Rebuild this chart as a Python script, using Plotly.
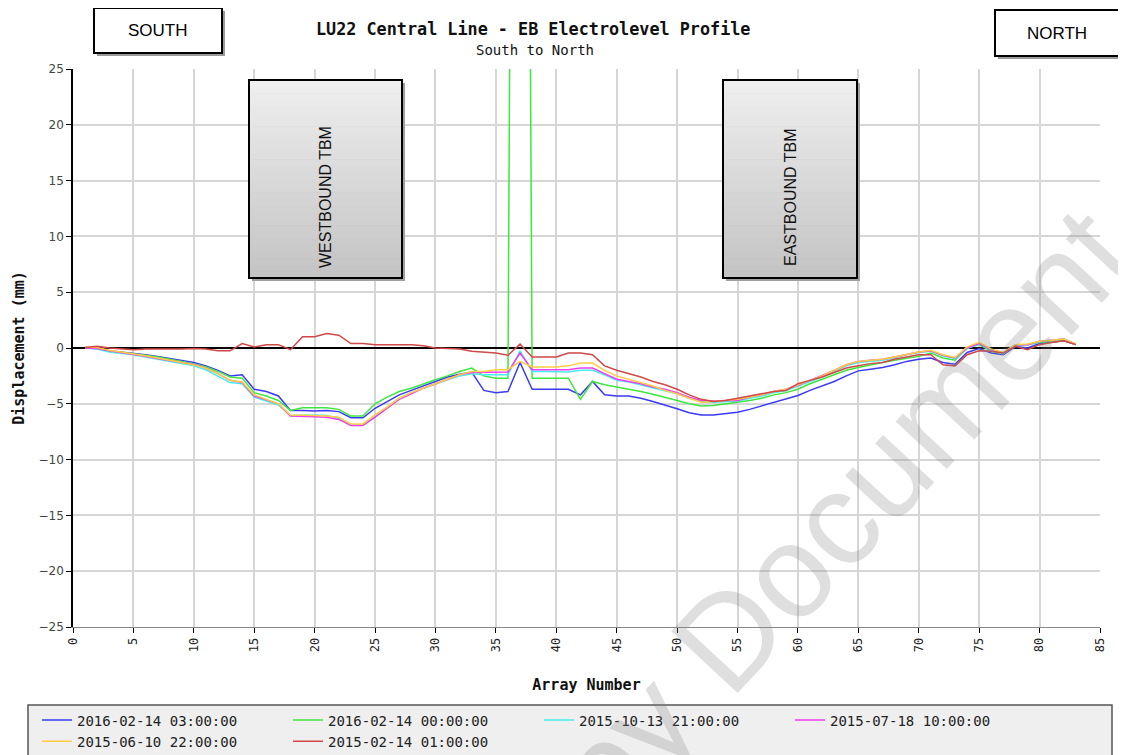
import plotly.graph_objects as go

# ---------------- data ----------------
ARRAY = list(range(1, 84))
SERIES_NAMES = ["2016-02-14 03:00:00", "2016-02-14 00:00:00", "2015-10-13 21:00:00",
                "2015-07-18 10:00:00", "2015-06-10 22:00:00", "2015-02-14 01:00:00"]
SERIES_COLORS = ["#3a3af2", "#3fe63f", "#45eeee", "#f03cf0", "#ffcc44", "#d04848"]

BLUE = [0, -0.05, -0.25, -0.35, -0.45, -0.6, -0.75, -0.95, -1.1, -1.3,
        -1.6, -2.0, -2.5, -2.4, -3.7, -3.9, -4.3, -5.6, -5.6, -5.65,
        -5.6, -5.7, -6.25, -6.25, -5.4, -4.8, -4.2, -3.8, -3.4, -3.0,
        -2.6, -2.35, -2.15, -3.8, -4.0, -3.9, -1.3, -3.7, -3.7, -3.7,
        -3.7, -4.2, -3.0, -4.2, -4.3, -4.3, -4.5, -4.8, -5.1, -5.45,
        -5.8, -6.0, -6.0, -5.9, -5.75, -5.5, -5.2, -4.9, -4.6, -4.25,
        -3.8, -3.4, -3.0, -2.5, -2.05, -1.9, -1.75, -1.5, -1.2, -1.0,
        -0.9, -1.3, -1.45, -0.4, -0.05, -0.45, -0.6, 0.15, 0.0, 0.4,
        0.55, 0.65, 0.3]
GREEN = [0, -0.05, -0.3, -0.4, -0.5, -0.65, -0.8, -1.0, -1.2, -1.4,
         -1.7, -2.1, -2.6, -2.7, -4.0, -4.3, -4.7, -5.6, -5.35, -5.35,
         -5.35, -5.5, -6.1, -6.1, -5.0, -4.4, -3.9, -3.6, -3.2, -2.85,
         -2.5, -2.1, -1.8, -2.5, -2.7, -2.7, 200, -2.7, -2.7, -2.7,
         -2.7, -4.6, -3.0, -3.3, -3.5, -3.65, -3.9, -4.15, -4.4, -4.7,
         -5.0, -5.2, -5.15, -5.0, -4.9, -4.7, -4.5, -4.2, -4.0, -3.7,
         -3.2, -2.8, -2.4, -2.0, -1.75, -1.5, -1.3, -1.1, -0.9, -0.75,
         -0.45, -0.9, -1.1, 0.0, 0.3, -0.3, -0.5, 0.3, 0.3, 0.5,
         0.6, 0.7, 0.3]
CYAN = [0, -0.1, -0.35, -0.45, -0.6, -0.8, -1.0, -1.2, -1.4, -1.6,
        -1.95, -2.5, -3.1, -3.2, -4.4, -4.75, -5.1, -6.05, -6.0, -6.0,
        -6.05, -6.3, -6.9, -6.9, -6.1, -5.3, -4.5, -4.0, -3.6, -3.2,
        -2.85, -2.5, -2.3, -2.4, -2.4, -2.4, -0.25, -2.1, -2.1, -2.1,
        -2.15, -2.0, -2.0, -2.4, -2.9, -3.05, -3.3, -3.6, -3.8, -4.1,
        -4.5, -4.8, -4.85, -4.8, -4.75, -4.5, -4.3, -4.0, -3.8, -3.4,
        -3.0, -2.6, -2.1, -1.6, -1.3, -1.2, -1.1, -0.9, -0.6, -0.4,
        -0.3, -0.7, -0.95, -0.05, 0.35, -0.2, -0.5, 0.25, 0.3, 0.55,
        0.7, 0.8, 0.35]
MAGENTA = [0, -0.05, -0.25, -0.4, -0.55, -0.75, -0.95, -1.15, -1.3, -1.45,
           -1.8, -2.3, -2.9, -3.1, -4.3, -4.65, -5.0, -6.1, -6.1, -6.15,
           -6.2, -6.4, -6.95, -6.95, -6.2, -5.4, -4.6, -4.1, -3.6, -3.2,
           -2.8, -2.4, -2.2, -2.2, -2.15, -2.15, -0.45, -1.95, -1.95, -1.95,
           -1.95, -1.8, -1.8, -2.3, -2.8, -3.0, -3.2, -3.5, -3.7, -4.0,
           -4.4, -4.7, -4.75, -4.7, -4.7, -4.4, -4.2, -3.9, -3.7, -3.35,
           -2.9, -2.5, -2.0, -1.5, -1.2, -1.1, -1.0, -0.8, -0.55, -0.35,
           -0.25, -0.65, -0.9, 0.0, 0.4, -0.15, -0.45, 0.3, 0.3, 0.6,
           0.7, 0.8, 0.35]
YELLOW = [0.1, 0.05, -0.2, -0.35, -0.5, -0.7, -0.9, -1.1, -1.3, -1.5,
          -1.8, -2.3, -2.9, -3.05, -4.2, -4.6, -5.0, -6.0, -6.0, -6.05,
          -6.1, -6.2, -6.8, -6.8, -6.0, -5.3, -4.5, -4.0, -3.6, -3.2,
          -2.8, -2.4, -2.1, -2.1, -1.95, -1.95, -1.2, -1.7, -1.7, -1.7,
          -1.6, -1.35, -1.35, -2.0, -2.5, -2.8, -3.1, -3.4, -3.8, -4.1,
          -4.5, -4.85, -4.8, -4.7, -4.6, -4.4, -4.2, -3.9, -3.7, -3.3,
          -2.9, -2.5, -2.0, -1.5, -1.2, -1.1, -1.0, -0.8, -0.55, -0.35,
          -0.2, -0.6, -0.85, 0.1, 0.5, -0.1, -0.4, 0.3, 0.35, 0.6,
          0.7, 0.8, 0.35]
RED = [0.05, 0.15, 0.0, -0.1, -0.15, -0.1, -0.1, -0.15, -0.1, -0.05,
       -0.1, -0.25, -0.25, 0.4, 0.1, 0.3, 0.3, -0.15, 1.0, 1.0,
       1.3, 1.15, 0.4, 0.4, 0.3, 0.3, 0.3, 0.3, 0.2, 0.0,
       -0.05, -0.1, -0.3, -0.35, -0.45, -0.65, 0.35, -0.8, -0.8, -0.8,
       -0.45, -0.45, -0.6, -1.6, -2.0, -2.3, -2.6, -3.0, -3.3, -3.7,
       -4.2, -4.6, -4.8, -4.7, -4.5, -4.3, -4.1, -3.9, -3.8, -3.2,
       -2.9, -2.6, -2.2, -1.8, -1.6, -1.4, -1.3, -1.0, -0.8, -0.6,
       -0.6, -1.5, -1.6, -0.6, -0.25, -0.3, -0.45, 0.15, -0.15, 0.3,
       0.5, 0.65, 0.3]
SERIES = [BLUE, GREEN, CYAN, MAGENTA, YELLOW, RED]

X_TICKS = list(range(0, 90, 5))
Y_TICKS = list(range(-25, 30, 5))

TITLE = "LU22 Central Line - EB Electrolevel Profile"
SUBTITLE = "South to North"

# ---------------- figure ----------------
# the page body has an 8px margin, so the figure starts at screen (8, 8)
OFF = 8
SX0, SX1, SY0, SY1 = 73, 1100, 69, 627       # plot area in screen pixels
W, H = 1126 - OFF, 755 - OFF
L, T = SX0 - OFF, SY0 - OFF
PW, PH = SX1 - SX0, SY1 - SY0
R, B = W - L - PW, H - T - PH


def px(xs):
    return (xs - SX0) / PW


def py(ys):
    return (SY1 - ys) / PH


fig = go.Figure()
for name, col, vals in zip(SERIES_NAMES, SERIES_COLORS, SERIES):
    fig.add_trace(go.Scatter(x=ARRAY, y=vals, mode="lines", name=name,
                             line=dict(color=col, width=1.5)))

mono = "DejaVu Sans Mono"
shapes = []
annotations = []

# legend box
shapes.append(dict(type="rect", xref="paper", yref="paper",
                   x0=px(28), x1=px(1112), y0=py(775), y1=py(705),
                   fillcolor="#efefef", line=dict(color="#555555", width=1.5), layer="below"))


def label_box(x0, x1, y0, y1, text):
    shapes.append(dict(type="rect", xref="paper", yref="paper",
                       x0=px(x0 + 3), x1=px(x1 + 3), y0=py(y1 + 3), y1=py(y0 + 3),
                       fillcolor="#9a9a9a", line=dict(width=0), layer="above"))
    shapes.append(dict(type="rect", xref="paper", yref="paper",
                       x0=px(x0), x1=px(x1), y0=py(y1), y1=py(y0),
                       fillcolor="white", line=dict(color="black", width=2), layer="above"))
    annotations.append(dict(xref="paper", yref="paper", x=px((x0 + x1) / 2), y=py((y0 + y1) / 2),
                            text=text, showarrow=False,
                            font=dict(family="Liberation Sans", size=17, color="black"),
                            xanchor="center", yanchor="middle"))


label_box(94, 222, 8, 53, "SOUTH")
label_box(995, 1119, 10, 56, "NORTH")


def tbm_box(x0, x1, y0, y1, text, tx, ty):
    shapes.append(dict(type="rect", xref="paper", yref="paper",
                       x0=px(x0 + 3), x1=px(x1 + 3), y0=py(y1 + 3), y1=py(y0 + 3),
                       fillcolor="#a0a0a0", line=dict(width=0), layer="above"))
    n = 30
    for i in range(n):
        a = y0 + (y1 - y0) * i / n
        b = y0 + (y1 - y0) * (i + 1) / n
        t = i / (n - 1)
        g = int(round(238 - (238 - 196) * t))
        shapes.append(dict(type="rect", xref="paper", yref="paper",
                           x0=px(x0), x1=px(x1), y0=py(b + 0.5), y1=py(a),
                           fillcolor=f"rgb({g},{g},{g})", line=dict(width=0), layer="above"))
    shapes.append(dict(type="rect", xref="paper", yref="paper",
                       x0=px(x0), x1=px(x1), y0=py(y1), y1=py(y0),
                       fillcolor="rgba(0,0,0,0)", line=dict(color="black", width=2), layer="above"))
    annotations.append(dict(xref="paper", yref="paper", x=px(tx), y=py(ty),
                            text=text, showarrow=False, textangle=-90,
                            font=dict(family="Liberation Sans", size=16, color="#111111"),
                            xanchor="center", yanchor="middle"))


tbm_box(249, 402, 80, 278, "WESTBOUND TBM", 325, 197)
tbm_box(723, 857, 80, 278, "EASTBOUND TBM", 790, 197)

# titles
annotations.append(dict(xref="paper", yref="paper", x=px(533), y=py(29), text="<b>" + TITLE + "</b>",
                        showarrow=False, font=dict(family=mono, size=16.8, color="#111111"),
                        xanchor="center", yanchor="middle"))
annotations.append(dict(xref="paper", yref="paper", x=px(535), y=py(50), text=SUBTITLE,
                        showarrow=False, font=dict(family=mono, size=14, color="#111111"),
                        xanchor="center", yanchor="middle"))

# watermark
annotations.append(dict(xref="paper", yref="paper", x=px(784), y=py(576), text="Copy Document",
                        showarrow=False, textangle=-47,
                        font=dict(family="Liberation Sans", size=132, color="rgba(130,130,130,0.26)"),
                        xanchor="center", yanchor="middle"))

fig.update_layout(
    width=W, height=H,
    margin=dict(l=L, r=R, t=T, b=B, autoexpand=False),
    paper_bgcolor="white", plot_bgcolor="white",
    shapes=shapes, annotations=annotations,
    showlegend=True,
    legend=dict(orientation="h", x=px(37), y=py(704.5), xanchor="left", yanchor="top",
                entrywidth=206, entrywidthmode="pixels", bgcolor="rgba(0,0,0,0)",
                font=dict(family=mono, size=14, color="#222222"), itemwidth=30,
                traceorder="normal"),
    xaxis=dict(range=[0, 85], tickvals=X_TICKS, ticktext=[str(v) for v in X_TICKS],
               tickangle=-90, showgrid=True, gridcolor="#d6d6d6", gridwidth=1.5,
               zeroline=False, showline=True, linecolor="#888888", linewidth=1,
               ticks="outside", ticklen=5, tickcolor="black",
               tickfont=dict(family=mono, size=12, color="#222222"),
               title=dict(text="<b>Array Number</b>", standoff=28,
                          font=dict(family=mono, size=15, color="#111111"))),
    yaxis=dict(range=[-25, 25], tickvals=Y_TICKS, showgrid=True, gridcolor="#d6d6d6", gridwidth=1.5,
               zeroline=True, zerolinecolor="black", zerolinewidth=1.5,
               showline=True, linecolor="black", linewidth=1.5,
               ticks="outside", ticklen=5, tickcolor="black",
               tickfont=dict(family="DejaVu Sans", size=12, color="#444444"),
               title=dict(text="<b>Displacement (mm)</b>", standoff=10,
                          font=dict(family=mono, size=15, color="#111111"))),
)

fig.write_html("out.html")
